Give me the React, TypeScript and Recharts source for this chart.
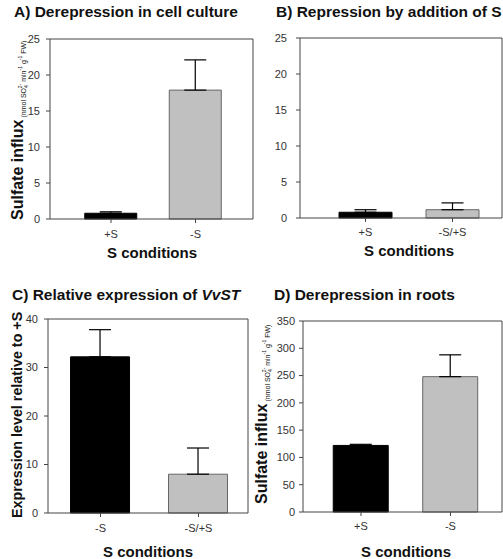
import React from "react";
import {
  BarChart,
  Bar,
  Cell,
  XAxis,
  YAxis,
  ErrorBar,
  ReferenceLine,
} from "recharts";

// panel A: derepression in cell culture
const catA = ["+S", "-S"];
const valA = [0.8, 17.9];
const errA = [0.2, 4.2];
const ticksA = [0, 5, 10, 15, 20, 25];

// panel B: repression by addition of S
const catB = ["+S", "-S/+S"];
const valB = [0.8, 1.15];
const errB = [0.35, 0.95];
const ticksB = [0, 5, 10, 15, 20, 25];

// panel C: relative expression of VvST
const catC = ["-S", "-S/+S"];
const valC = [32.2, 8.0];
const errC = [5.6, 5.4];
const ticksC = [0, 10, 20, 30, 40];

// panel D: derepression in roots
const catD = ["+S", "-S"];
const valD = [122, 248];
const errD = [2, 40];
const ticksD = [0, 50, 100, 150, 200, 250, 300, 350];

const FONT = "'Liberation Sans', Arial, Helvetica, sans-serif";
const AXIS = "#444";

function rows(cats: string[], vals: number[], errs: number[]) {
  return cats.map((c, i) => ({ x: i + 1, name: c, value: vals[i], err: [0, errs[i]] }));
}

type PanelProps = {
  cats: string[];
  vals: number[];
  errs: number[];
  ticks: number[];
  colors: string[];
  left: number;
  top: number;
  width: number;
  height: number;
  yAxisWidth: number;
  margin: { top: number; right: number; bottom: number; left: number };
  xDomain: [number, number];
  barSize: number;
  xTickMargin: number;
  yTickMargin: number;
};

function Panel(p: PanelProps) {
  const data = rows(p.cats, p.vals, p.errs);
  const yMax = p.ticks[p.ticks.length - 1];
  const tickStyle = { fontSize: 11, fill: "#333", fontFamily: FONT };
  return (
    <div style={{ position: "absolute", left: p.left, top: p.top }}>
      <BarChart width={p.width} height={p.height} data={data} margin={p.margin}>
        <XAxis
          type="number"
          dataKey="x"
          domain={p.xDomain}
          ticks={[1, 2]}
          interval={0}
          allowDataOverflow
          tickFormatter={(v: number) => p.cats[v - 1]}
          height={30}
          tickSize={4}
          tickMargin={p.xTickMargin}
          tick={tickStyle}
          stroke={AXIS}
        />
        <YAxis
          type="number"
          domain={[0, yMax]}
          ticks={p.ticks}
          interval={0}
          width={p.yAxisWidth}
          tickSize={4}
          tickMargin={p.yTickMargin}
          tick={tickStyle}
          stroke={AXIS}
        />
        {/* box frame: top and right edges */}
        <ReferenceLine y={yMax} stroke={AXIS} />
        <ReferenceLine x={p.xDomain[1]} stroke={AXIS} />
        <Bar dataKey="value" barSize={p.barSize} isAnimationActive={false} strokeWidth={1}>
          {data.map((d, i) => (
            <Cell key={d.name} fill={p.colors[i]} stroke={i === 0 ? "#000" : "#666"} />
          ))}
          <ErrorBar dataKey="err" direction="y" width={11} stroke="#000" strokeWidth={1.2} isAnimationActive={false} />
        </Bar>
      </BarChart>
    </div>
  );
}

function FluxLabel({ x, y }: { x: number; y: number }) {
  return (
    <text transform={`translate(${x},${y}) rotate(-90)`} fontFamily={FONT} fill="#111">
      <tspan fontWeight="bold" fontSize={16}>Sulfate influx</tspan>
      <tspan fontSize={7} dx={2} dy={3}>(nmol SO</tspan>
      <tspan fontSize={5} dy={2}>4</tspan>
      <tspan fontSize={5} dx={-3} dy={-6}>2-</tspan>
      <tspan fontSize={7} dy={4}> min</tspan>
      <tspan fontSize={5} dy={-4}>-1</tspan>
      <tspan fontSize={7} dy={4}> g</tspan>
      <tspan fontSize={5} dy={-4}>-1</tspan>
      <tspan fontSize={7} dy={4}> FW)</tspan>
    </text>
  );
}

const black = "#000000";
const grey = "#c0c0c0";

export default function App() {
  const titleStyle = { fontFamily: FONT, fontWeight: "bold" as const, fontSize: 15.5, fill: "#111" };
  const xLab = { fontFamily: FONT, fontWeight: "bold" as const, fontSize: 15, fill: "#111", textAnchor: "middle" as const };
  return (
    <div style={{ position: "absolute", left: 0, top: 0, width: 503, height: 559, background: "#fff", overflow: "hidden" }}>
      <Panel
        cats={catA} vals={valA} errs={errA} ticks={ticksA} colors={[black, grey]}
        left={0} top={0} width={260} height={280} yAxisWidth={50}
        margin={{ top: 39, right: 7, bottom: 31, left: 0 }}
        xDomain={[0.278, 2.68]} barSize={52} xTickMargin={7} yTickMargin={6}
      />
      <Panel
        cats={catB} vals={valB} errs={errB} ticks={ticksB} colors={[black, grey]}
        left={250} top={0} width={253} height={280} yAxisWidth={50}
        margin={{ top: 38, right: 1, bottom: 32, left: 0 }}
        xDomain={[0.247, 2.569]} barSize={53} xTickMargin={6} yTickMargin={9}
      />
      <Panel
        cats={catC} vals={valC} errs={errC} ticks={ticksC} colors={[black, grey]}
        left={0} top={280} width={260} height={279} yAxisWidth={48}
        margin={{ top: 39, right: 12, bottom: 16, left: 0 }}
        xDomain={[0.464, 2.505]} barSize={59} xTickMargin={7} yTickMargin={6}
      />
      <Panel
        cats={catD} vals={valD} errs={errD} ticks={ticksD} colors={[black, grey]}
        left={250} top={280} width={253} height={279} yAxisWidth={53}
        margin={{ top: 41, right: 1, bottom: 17, left: 0 }}
        xDomain={[0.352, 2.576]} barSize={55} xTickMargin={6} yTickMargin={4}
      />
      <svg width={503} height={559} style={{ position: "absolute", left: 0, top: 0, pointerEvents: "none" }}>
        <text x={14} y={17} {...titleStyle}>A) Derepression in cell culture</text>
        <text x={276} y={17} {...titleStyle}>B) Repression by addition of S</text>
        <text x={12} y={300} {...titleStyle}>
          C) Relative expression of <tspan fontStyle="italic">VvST</tspan>
        </text>
        <text x={274} y={300} {...titleStyle}>D) Derepression in roots</text>

        <text x={152} y={258} {...xLab}>S conditions</text>
        <text x={409} y={256} {...xLab}>S conditions</text>
        <text x={148} y={557} {...xLab}>S conditions</text>
        <text x={406} y={557} {...xLab}>S conditions</text>

        <FluxLabel x={23} y={220} />
        <FluxLabel x={267} y={504} />
        <text transform="translate(22,518) rotate(-90)" fontFamily={FONT} fontWeight="bold" fontSize={14.3} fill="#111">
          Expression level relative to +S
        </text>
      </svg>
    </div>
  );
}
